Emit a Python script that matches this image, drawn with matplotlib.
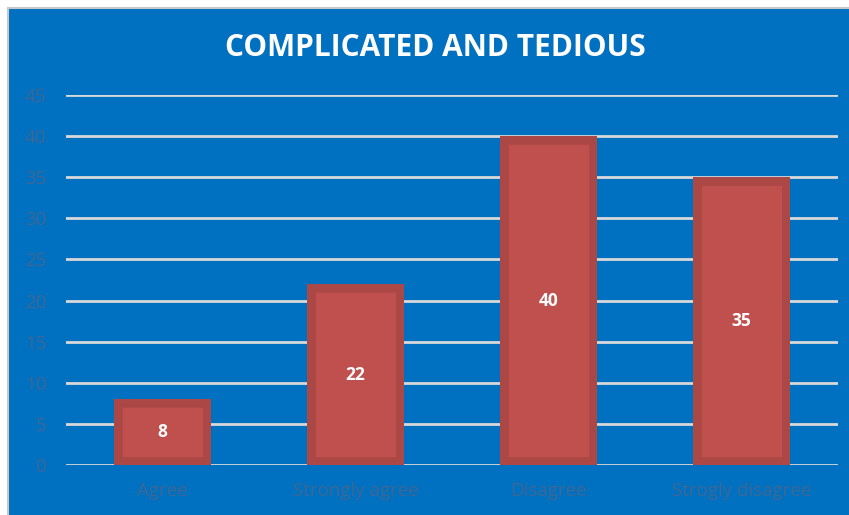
import matplotlib
matplotlib.use("Agg")
import matplotlib.pyplot as plt
from matplotlib.patches import Rectangle

# Antworten und Anzahl
categories = ["Agree", "Strongly agree", "Disagree", "Strogly disagree"]
counts = [8, 22, 40, 35]
yticks = [0, 5, 10, 15, 20, 25, 30, 35, 40, 45]

blue = "#0070C0"
bar_col = "#C0504D"
edge_col = "#AB4845"
tick_col = "#3D6895"

plt.rcParams["font.family"] = ["Open Sans", "DejaVu Sans"]

fig = plt.figure(figsize=(8.49, 5.15), dpi=100)
fig.patch.set_facecolor("white")

# blauer Hintergrund mit grauem Rand
bg = Rectangle((8 / 849, -0.01), 1, 1.01 - 8 / 515, transform=fig.transFigure,
               facecolor=blue, edgecolor="#C8C8C8", linewidth=1.5, zorder=-5)
fig.add_artist(bg)

ax = fig.add_axes([66 / 849, (515 - 465) / 515, (838 - 66) / 849, (465 - 95) / 515])
ax.set_facecolor("none")
ax.set_zorder(2)

x = range(len(categories))
bars = ax.bar(x, counts, width=0.5, color=bar_col, edgecolor=edge_col,
              linewidth=12, zorder=3)
for b in bars:
    b.set_clip_path(b)

for xi, v in zip(x, counts):
    ax.text(xi, v / 2, str(v), ha="center", va="center", color="white",
            fontsize=12.5, fontweight="bold", zorder=4)

ax.set_xlim(-0.5, len(categories) - 0.5)
ax.set_ylim(0, 45)
ax.set_yticks(yticks)
ax.set_xticks(list(x))
ax.set_xticklabels(categories)
ax.yaxis.grid(True, color="#D9D9D9", linewidth=2, zorder=1)
ax.set_axisbelow(True)
ax.tick_params(length=0, colors=tick_col, labelsize=13.5)
ax.tick_params(axis="y", pad=14)
ax.tick_params(axis="x", pad=12)
for s in ax.spines.values():
    s.set_visible(False)

fig.text(435 / 849, 1 - 48 / 515, "COMPLICATED AND TEDIOUS", ha="center",
         va="center", color="white", fontsize=21.5, fontweight="bold")

fig.savefig("out.png", dpi=100, facecolor=fig.get_facecolor())
